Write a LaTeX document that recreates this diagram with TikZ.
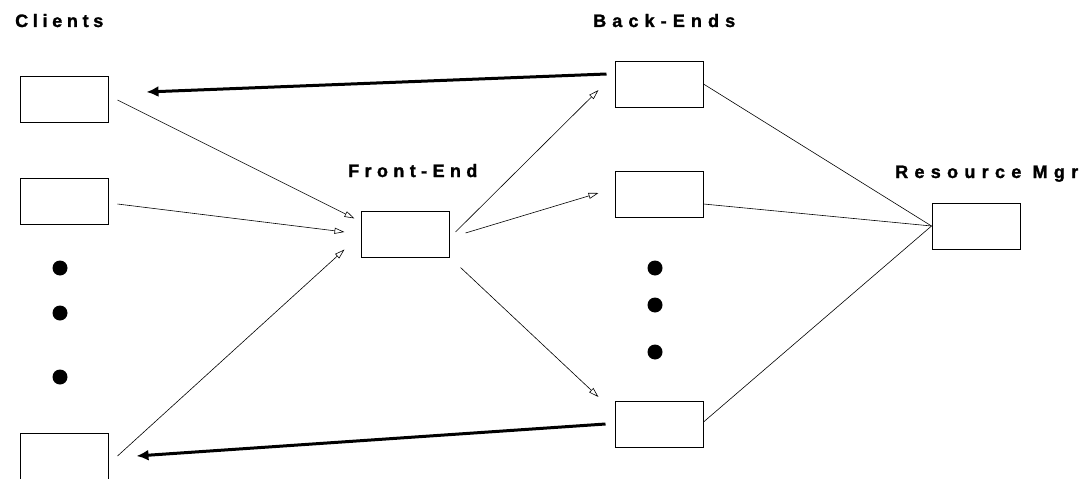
\documentclass[tikz,border=0pt]{standalone}
\usepackage{fontspec}
\newfontfamily\labfont[FakeBold=1.5]{Liberation Sans Bold}
\usetikzlibrary{arrows.meta,calc}
\tikzset{
  box/.style={draw,line width=1pt,minimum width=88pt,minimum height=46pt,inner sep=0pt},
  lab/.style={inner sep=0pt,anchor=base west},
  dot/.style={circle,fill=black,minimum size=15pt,inner sep=0pt},
  thin/.style={line width=0.6pt,-{Triangle[open,length=10pt,width=6pt]}},
  thickarr/.style={line width=3pt,-{Latex[length=12pt,width=11pt]}},
  plain/.style={line width=0.6pt}
}
\newcommand{\lb}[2]{{\fontsize{18}{20}\selectfont\labfont\addfontfeature{LetterSpace=#1}#2}}
\begin{document}
\begin{tikzpicture}[x=1pt,y=-1pt]
\useasboundingbox (0,0) rectangle (1088,479);
% labels
\node[lab] (lc) at (15,27) {\lb{26}{Clients}};
\node[lab] (lb) at (593,27) {\lb{34}{Back-Ends}};
\node[lab] (lf) at (348,177) {\lb{30}{Front-End}};
\node[lab] (lr) at (895,178) {\lb{35}{Resource Mgr}};
% clients
\node[box] (c1) at (64,99) {};
\node[box] (c2) at (64,201) {};
\node[box] (c4) at (64,456) {};
\node[dot] (d1) at (60,268) {};
\node[dot] (d2) at (60,313) {};
\node[dot] (d3) at (60,377) {};
% front end
\node[box] (fe) at (405,234) {};
% back ends
\node[box] (b1) at (659,84) {};
\node[box] (b2) at (659,194) {};
\node[box] (b4) at (659,424) {};
\node[dot] (e1) at (655,268) {};
\node[dot] (e2) at (655,305) {};
\node[dot] (e3) at (655,352) {};
% resource mgr
\node[box] (rm) at (976,226) {};
% client -> front end
\coordinate (f1) at ($(fe.north west)+(-6,8)$);
\coordinate (f2) at ($(fe.west)+(-16,-2)$);
\coordinate (f3) at ($(fe.south west)+(-16,-8)$);
\draw[thin] ($(c1.east)+(9,1)$) -- (f1);
\draw[thin] ($(c2.east)+(9,3)$) -- (f2);
\draw[thin] ($(c4.east)+(9,0)$) -- (f3);
% front end -> back ends
\coordinate (g1) at ($(b1.west)+(-16,6)$);
\coordinate (g2) at ($(b2.west)+(-16,-1)$);
\coordinate (g3) at ($(b4.west)+(-16,-27)$);
\draw[thin] ($(fe.east)+(6,-2)$) -- (g1);
\draw[thin] ($(fe.east)+(16,-1)$) -- (g2);
\draw[thin] ($(fe.south east)+(11,10)$) -- (g3);
% thick returns
\draw[thickarr] ($(b1.west)+(-8,-10)$) -- ($(c1.east)+(38,-7)$);
\draw[thickarr] ($(b4.west)+(-9,0)$) -- ($(c4.east)+(28,0)$);
% back ends -- resource mgr
\draw[plain] ($(b1.east)+(0,0)$) -- (rm.west);
\draw[plain] ($(b2.east)+(0,10)$) -- (rm.west);
\draw[plain] ($(b4.east)+(0,-2)$) -- (rm.west);
\end{tikzpicture}
\end{document}
